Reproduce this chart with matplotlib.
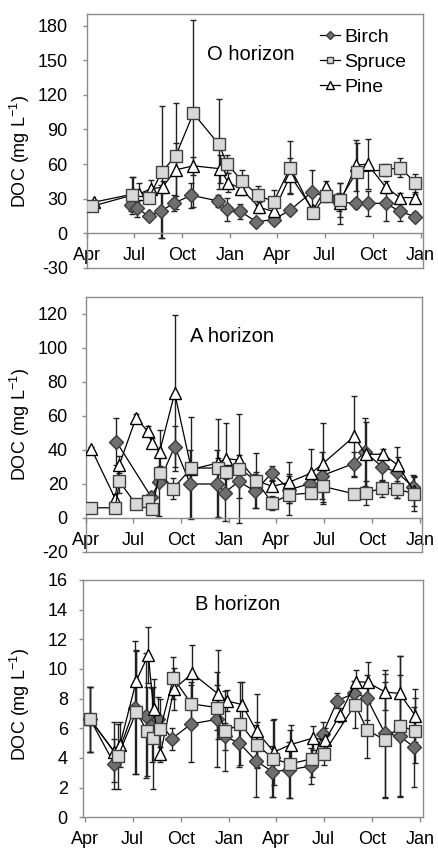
import matplotlib
matplotlib.use("Agg")
import matplotlib.pyplot as plt
from matplotlib.lines import Line2D

plt.rcParams['font.family'] = ['Liberation Sans', 'DejaVu Sans']
plt.rcParams['mathtext.fontset'] = 'custom'
plt.rcParams['mathtext.rm'] = 'Liberation Sans'
plt.rcParams['mathtext.it'] = 'Liberation Sans'
plt.rcParams['axes.unicode_minus'] = False

# x positions: days since 1 April of first year
tick_days = [0, 91, 183, 275, 365, 456, 548, 640]
tick_labels = ["Apr", "Jul", "Oct", "Jan", "Apr", "Jul", "Oct", "Jan"]

# ---------------- O horizon ----------------
o_birch_day = [85, 95, 118, 141, 166, 200, 252, 268, 294, 325, 358, 389, 432, 484, 516, 538, 573, 600, 629]
o_birch = [25, 22, 15, 19, 26, 33, 28, 21, 19, 10, 12, 20, 36, 27, 26, 26, 26, 19, 14.5]
o_birch_err = [6, 8, 3, 23, 7, 11, 5, 10, 6.5, 2, 3, 3, 19, 8, 4, 11, 15, 8, 4]

o_spruce_day = [10, 86, 119, 143, 170, 204, 253, 269, 298, 328, 358, 390, 434, 458, 485, 517, 572, 601, 630]
o_spruce = [23.5, 33, 31, 53, 67, 104, 77, 60, 45, 33, 27.5, 57, 18, 32.5, 29, 53, 55, 57, 43.5]
o_spruce_err = [2, 16, 4, 57, 46, 81, 39, 8, 10, 8, 10, 23, 3, 5, 15, 25, 5, 8, 8]

o_pine_day = [13, 88, 99, 122, 145, 170, 204, 255, 271, 296, 330, 358, 390, 434, 458, 485, 516, 538, 573, 600, 629]
o_pine = [27, 34, 34, 38.5, 40, 55, 58.5, 56, 44, 38.5, 22.5, 19, 50, 20, 40, 26, 59, 60, 40, 31, 31]
o_pine_err = [2, 15, 10, 8, 5, 23, 8, 12, 8, 5, 5, 4, 15, 3, 5, 18, 22, 22, 5, 4, 3]

# ---------------- A horizon ----------------
a_birch_day = [58, 125, 140, 170, 200, 252, 266, 293, 324, 356, 390, 429, 453, 513, 534, 568, 596, 626]
a_birch = [45, 12.4, 21, 42, 20, 20, 15, 21.5, 15.7, 26.5, 16.7, 20.2, 25, 32, 39, 30, 27, 18.5]
a_birch_err = [14, 3, 20, 12, 20, 20, 17, 10, 10, 4, 8, 6, 14, 7, 20, 8, 15, 7]

a_spruce_day = [10, 56, 64, 96, 118, 127, 141, 167, 202, 253, 268, 294, 326, 357, 389, 432, 454, 513, 536, 568, 597, 628]
a_spruce = [6, 6, 21.5, 8, 9.8, 5.5, 26.7, 17.3, 29.4, 29.4, 27, 29, 22, 8.8, 13.7, 14.7, 18.6, 14.3, 14.7, 17.6, 17, 14.3]
a_spruce_err = [1, 1, 7, 1.5, 2, 1, 4, 6, 30, 29, 4, 32, 5, 4, 12, 3, 9, 2, 7, 5, 5, 10]

a_pine_day = [10, 56, 64, 96, 118, 127, 141, 170, 202, 253, 268, 294, 326, 357, 389, 432, 454, 514, 536, 570, 598, 628]
a_pine = [40.8, 11.4, 31.4, 59, 51, 44, 38.8, 73.5, 28.6, 32.4, 35, 34, 22, 18.6, 21, 26.5, 32, 48, 37.5, 37.5, 31, 16]
a_pine_err = [1, 3, 5, 2, 3, 3, 13, 46, 3, 3, 21, 3, 16, 3, 12, 14, 24, 24, 19, 3, 5, 9]

# ---------------- B horizon ----------------
b_birch_day = [10, 56, 95, 117, 128, 140, 166, 203, 252, 267, 295, 327, 358, 390, 432, 454, 482, 514, 538, 573, 601, 629]
b_birch = [6.6, 3.6, 7.4, 6.85, 6.2, 6.6, 5.3, 6.3, 6.6, 5.45, 5.0, 3.8, 3.08, 3.2, 3.46, 5.6, 7.86, 8.36, 8.07, 5.66, 5.48, 4.72]
b_birch_err = [2.2, 1.7, 4.5, 4.2, 2.5, 1.5, 0.75, 2.6, 3.2, 0.9, 1.6, 2.4, 1.7, 1.9, 1.2, 0.8, 0.5, 0.8, 1.5, 4.3, 4.1, 2.7]

b_spruce_day = [10, 63, 98, 119, 129, 144, 169, 203, 252, 268, 297, 328, 360, 392, 434, 456, 516, 539, 573, 601, 630]
b_spruce = [6.6, 4.1, 7.1, 5.8, 5.35, 5.95, 9.4, 7.65, 7.4, 5.8, 6.3, 4.9, 3.95, 3.6, 3.95, 4.3, 7.6, 5.9, 5.2, 6.15, 5.85]
b_spruce_err = [2.2, 2.2, 4.2, 3.0, 3.45, 2.0, 1.4, 1.5, 1.5, 2.7, 2.8, 1.5, 2.6, 2.3, 1.2, 0.8, 1.6, 1.9, 3.9, 4.7, 2.2]

b_pine_day = [10, 56, 67, 98, 121, 131, 144, 170, 205, 255, 271, 300, 328, 361, 393, 436, 459, 487, 518, 540, 573, 601, 631]
b_pine = [6.6, 4.4, 4.9, 9.2, 10.95, 7.3, 4.25, 8.65, 9.7, 8.3, 7.85, 7.6, 5.8, 4.4, 4.9, 5.35, 5.2, 6.9, 9.15, 9.1, 8.45, 8.35, 6.85]
b_pine_err = [2.2, 2.0, 1.5, 2.0, 1.9, 2.0, 0.5, 1.4, 1.9, 3.0, 0.7, 1.5, 2.5, 2.2, 1.3, 0.8, 0.8, 0.5, 0.8, 1.4, 1.2, 2.5, 1.8]

GRAY = '#8c8c8c'
styles = {
    'Birch': dict(marker='D', ms=7, mfc='#6f6f6f', mec='#3c3c3c'),
    'Spruce': dict(marker='s', ms=8, mfc='#d9d9d9', mec='#404040'),
    'Pine': dict(marker='^', ms=9, mfc='white', mec='black'),
}

W, H = 438, 850
fig = plt.figure(figsize=(W / 100, H / 100), dpi=100)


def make_ax(l, t, r, b):
    return fig.add_axes([l / W, 1 - b / H, (r - l) / W, (b - t) / H])


panels = [
    dict(box=(87, 14, 423.3, 268), ylim=(-30, 190), yticks=list(range(-30, 181, 30)),
         xlim=(0, 645), title="O horizon", tpos=(207, 54), ylab_y=0.457,
         data=[('Birch', o_birch_day, o_birch, o_birch_err),
               ('Pine', o_pine_day, o_pine, o_pine_err),
               ('Spruce', o_spruce_day, o_spruce, o_spruce_err)]),
    dict(box=(86, 297, 422, 552), ylim=(-20, 130), yticks=list(range(-20, 121, 20)),
         xlim=(0, 644), title="A horizon", tpos=(190, 336), ylab_y=0.5,
         data=[('Birch', a_birch_day, a_birch, a_birch_err),
               ('Pine', a_pine_day, a_pine, a_pine_err),
               ('Spruce', a_spruce_day, a_spruce, a_spruce_err)]),
    dict(box=(83.3, 580, 423.3, 817.3), ylim=(0, 16), yticks=list(range(0, 17, 2)),
         xlim=(-3.2, 646.3), title="B horizon", tpos=(195, 604), ylab_y=0.477,
         data=[('Birch', b_birch_day, b_birch, b_birch_err),
               ('Pine', b_pine_day, b_pine, b_pine_err),
               ('Spruce', b_spruce_day, b_spruce, b_spruce_err)]),
]

axes = []
for p in panels:
    l, t, r, b = p['box']
    ax = make_ax(l, t, r, b)
    axes.append(ax)
    ax.set_xlim(*p['xlim'])
    ax.set_ylim(*p['ylim'])
    for name, xd, yd, ed in p['data']:
        ax.errorbar(xd, yd, yerr=ed, fmt='none', ecolor='#222222', elinewidth=1.0,
                    capsize=2, capthick=1.0, zorder=2)
        ax.plot(xd, yd, color='black', lw=0.9, zorder=3, **styles[name])
    for s in ax.spines.values():
        s.set_color(GRAY)
        s.set_linewidth(1.0)
    if p['ylim'][0] < 0:
        ax.spines['bottom'].set_position(('data', 0))
        ax.add_line(Line2D([0, 1], [0, 0], transform=ax.transAxes, color=GRAY, lw=1.0,
                           clip_on=False))
    ax.set_yticks(p['yticks'])
    ax.set_xticks(tick_days)
    ax.set_xticklabels(tick_labels)
    pad_y = (l - 68 - 4) * 0.72
    ax.tick_params(axis='y', direction='out', length=3, width=1, color=GRAY,
                   labelsize=13, pad=pad_y)
    ax.tick_params(axis='x', direction='out', length=3.6, width=1, color=GRAY,
                   labelsize=13, pad=6.5)
    ax.set_ylabel('DOC (mg L$^{-1}$)', fontsize=13)
    ax.yaxis.set_label_coords((32 - l) / (r - l), p['ylab_y'])
    tx, ty = p['tpos']
    fig.text(tx / W, 1 - ty / H, p['title'], fontsize=14.5, va='center', ha='left')

handles = [Line2D([], [], color='black', lw=0.9, marker=styles[n]['marker'],
                  ms=styles[n]['ms'] * 0.6, mfc=styles[n]['mfc'], mec=styles[n]['mec'])
           for n in ['Birch', 'Spruce', 'Pine']]
ax0 = axes[0]
ax0.legend(handles, ['Birch', 'Spruce', 'Pine'], loc='upper left',
           bbox_to_anchor=(0.693, 0.945), frameon=False, fontsize=14,
           handlelength=1.0, handletextpad=0.25, labelspacing=0.38, borderpad=0,
           borderaxespad=0)

fig.savefig('out.png', dpi=100)
